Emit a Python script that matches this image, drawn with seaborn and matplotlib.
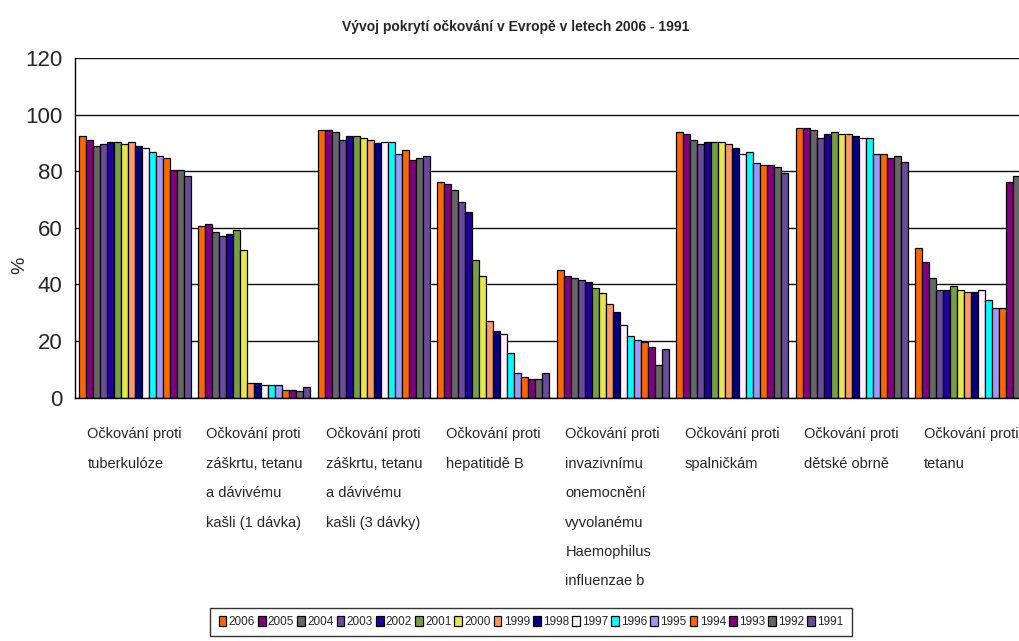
import matplotlib
matplotlib.use("Agg")
import matplotlib.pyplot as plt
import matplotlib.patches as mpatches
import seaborn as sns
import pandas as pd

years = ["2006", "2005", "2004", "2003", "2002", "2001", "2000", "1999",
         "1998", "1997", "1996", "1995", "1994", "1993", "1992", "1991"]

categories = [
    "Očkování proti\ntuberkulóze",
    "Očkování proti\nzáškrtu, tetanu\na dávivému\nkašli (1 dávka)",
    "Očkování proti\nzáškrtu, tetanu\na dávivému\nkašli (3 dávky)",
    "Očkování proti\nhepatitidě B",
    "Očkování proti\ninvazivnímu\nonemocnění\nvyvolanému\nHaemophilus\ninfluenzae b",
    "Očkování proti\nspalničkám",
    "Očkování proti\ndětské obrně",
    "Očkování proti\ntetanu",
]

# coverage in %, one value per year (2006 ... 1991)
tuberkuloza = [92.6, 91.2, 89.1, 89.8, 90.5, 90.4, 89.8, 90.4,
               89.1, 88.3, 87.0, 85.6, 84.7, 80.5, 80.5, 78.4]
dtp_1 = [60.7, 61.4, 58.6, 57.2, 57.9, 59.3, 52.3, 5.0,
         5.1, 4.3, 4.3, 4.3, 2.8, 2.8, 2.2, 3.6]
dtp_3 = [94.7, 94.7, 94.0, 91.2, 92.6, 92.6, 91.9, 91.2,
         89.9, 90.5, 90.5, 86.2, 87.5, 84.1, 84.8, 85.6]
hepatitida_b = [76.4, 75.6, 73.5, 69.3, 65.8, 48.7, 43.1, 26.9,
                23.4, 22.6, 15.6, 8.5, 7.1, 6.4, 6.4, 8.5]
hib = [45.2, 43.1, 42.4, 41.7, 41.0, 38.9, 36.8, 33.2,
       30.4, 25.5, 21.9, 20.5, 19.8, 17.7, 11.4, 17.0]
spalnicky = [94.0, 93.3, 91.2, 89.8, 90.5, 90.5, 90.5, 89.8,
             88.4, 86.2, 87.0, 82.8, 82.1, 82.1, 81.4, 79.3]
detska_obrna = [95.4, 95.4, 94.7, 91.9, 93.3, 94.0, 93.3, 93.3,
                92.6, 91.9, 91.9, 86.2, 86.2, 84.8, 85.5, 83.4]
tetanus = [53.0, 48.0, 42.4, 38.2, 38.2, 39.6, 38.2, 37.5,
           37.5, 38.2, 34.6, 31.8, 31.8, 76.3, 78.4, 80.0]

series = [tuberkuloza, dtp_1, dtp_3, hepatitida_b, hib,
          spalnicky, detska_obrna, tetanus]

year_colors = ["#FF6600", "#800080", "#666666", "#6A4A9A", "#200099",
               "#78A042", "#E6E64D", "#FF9966", "#000080", "#FFF0FF",
               "#00FFFF", "#9999FF", "#FF6600", "#800080", "#666666",
               "#6A4A9A"]

rows = []
for cat, vals in zip(categories, series):
    for yr, v in zip(years, vals):
        rows.append({"kategorie": cat, "rok": yr, "pokryti": v})
df = pd.DataFrame(rows)

sns.set_style("white")
plt.rcParams["font.family"] = ["Liberation Sans", "DejaVu Sans"]

fig = plt.figure(figsize=(10.19, 6.41), dpi=100)
ax = fig.add_axes([75 / 1019, 243.5 / 641, 956 / 1019, 339.2 / 641])

sns.barplot(data=df, x="kategorie", y="pokryti", hue="rok",
            order=categories, hue_order=years, palette=year_colors,
            width=16 / 17, edgecolor="black", linewidth=0.9,
            saturation=1, legend=False, ax=ax)

ax.set_xlim(-0.5, 7.5)
ax.set_ylim(0, 120)
ax.set_yticks(range(0, 121, 20))
ax.set_axisbelow(True)
ax.yaxis.grid(True, color="#111111", linewidth=1.0)
ax.xaxis.grid(False)
for side in ("top", "right"):
    ax.spines[side].set_visible(False)
for side in ("left", "bottom"):
    ax.spines[side].set_color("black")
    ax.spines[side].set_linewidth(1.0)

ax.set_xlabel("")
ax.set_ylabel("")
ax.tick_params(axis="y", direction="out", length=6, width=1, color="black",
               labelsize=16, pad=3)
ax.tick_params(axis="x", direction="out", length=7, width=1, color="black",
               labelsize=10.5, pad=14.5)
for lbl in ax.get_xticklabels():
    lbl.set_multialignment("left")
    lbl.set_linespacing(2.4)

fig.text(516 / 1019, 1 - 31 / 641,
         "Vývoj pokrytí očkování v Evropě v letech 2006 - 1991",
         ha="center", va="baseline", fontsize=10, fontweight="bold")
fig.text(20 / 1019, 1 - 265 / 641, "%", rotation=90,
         ha="center", va="center", fontsize=14)

handles = [mpatches.Patch(facecolor=c, edgecolor="black", linewidth=0.9,
                          label=y) for y, c in zip(years, year_colors)]
leg = fig.legend(handles=handles, loc="center",
                 bbox_to_anchor=(531 / 1019, 1 - 622 / 641),
                 ncol=16, fontsize=8.5, frameon=True, fancybox=False,
                 edgecolor="black", handlelength=0.65, handleheight=1.0,
                 handletextpad=0.2, columnspacing=0.25, borderpad=0.7,
                 borderaxespad=0)
leg.get_frame().set_linewidth(1.0)

fig.savefig("out.png", dpi=100, facecolor="white")
